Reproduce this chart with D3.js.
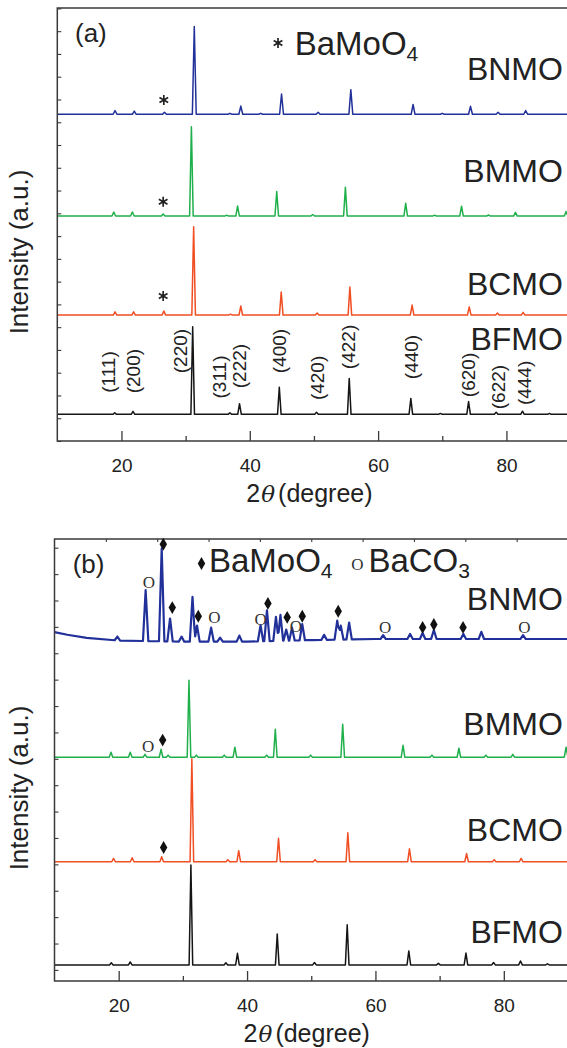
<!DOCTYPE html>
<html>
<head>
<meta charset="utf-8">
<script src="https://cdn.jsdelivr.net/npm/d3@7"></script>
<style>
  body { margin: 0; background: #fff; }
  svg { display: block; font-family: "Liberation Sans", Arial, sans-serif; }
</style>
</head>
<body>
<div id="container"></div>
<script>
/* DATA : peak lists are [2theta (degree), intensity above baseline (a.u.)] */
const samples = ["BNMO", "BMMO", "BCMO", "BFMO"];
const sampleColors = ["#22319a", "#1fb04b", "#f04e23", "#151515"];

// panel (a)
const peaksA_BNMO = [[19.0,16],[22.0,14],[26.7,9],[31.35,385],[36.9,4],[38.6,36],[41.7,4],[44.95,89],
  [50.65,9],[55.75,108],[65.45,43],[70.0,4],[74.4,35],[78.7,9],[83.0,16]];
const peaksA_BMMO = [[18.8,18],[21.7,18],[26.5,9],[30.9,392],[36.4,4],[38.1,44],[44.2,108],[49.8,7],
  [54.9,127],[64.3,56],[68.8,4],[73.0,43],[77.2,5],[81.4,16],[89.3,20]];
const peaksA_BCMO = [[19.0,14],[21.9,14],[26.6,18],[31.25,388],[37.0,4],[38.6,40],[44.9,101],[50.5,9],
  [55.6,123],[65.3,44],[74.2,36],[78.6,9],[82.6,12]];
const peaksA_BFMO = [[18.95,7],[21.8,13],[31.1,385],[36.9,7],[38.4,47],[44.6,119],[50.4,9],[55.5,158],
  [65.1,70],[69.7,4],[74.1,56],[78.4,9],[82.5,14],[86.7,4]];
const offsetsA = [1435, 988, 553, 117];

// panel (b)
const peaksB_BNMO = [[19.8,15],[24.2,193],[26.7,352],[28.0,87],[29.8,19],[31.5,170],[32.2,61],[34.4,53],
  [35.8,15],[38.8,23],[42.1,61],[43.1,117],[44.5,91],[45.2,98],[46.1,42],[47.0,49],[48.6,61],[52.0,19],
  [54.05,72],[54.6,53],[55.9,64],[61.2,15],[65.4,19],[67.35,23],[69.1,34],[73.7,19],[76.5,27],[83.0,15]];
const peaksB_BMMO = [[18.8,19],[21.8,19],[24.1,11],[26.6,30],[27.7,8],[30.95,292],[32.1,8],[36.45,8],
  [38.1,38],[43.05,8],[44.4,106],[49.9,8],[54.9,125],[64.3,45],[68.8,8],[73.0,34],[77.2,8],[81.4,11],[89.7,38]];
const peaksB_BCMO = [[19.2,13],[22.1,15],[26.7,19],[31.4,390],[37.0,8],[38.7,42],[44.9,89],[50.6,8],
  [55.7,110],[65.3,49],[74.2,31],[78.5,8],[82.7,13]];
const peaksB_BFMO = [[18.85,8],[21.8,11],[31.25,379],[36.7,8],[38.5,44],[44.7,117],[50.5,9],[55.6,152],
  [65.2,53],[69.8,6],[74.1,45],[78.4,9],[82.6,15],[86.8,4]];
const offsetsB = [0, 806, 410, 19];
// sloping baseline of BNMO in (b): [2theta, level]
const baselineB_BNMO = [[10,1280],[12,1270],[15,1258],[20,1248],[30,1244],[40,1244],[50,1250],
  [60,1254],[70,1254],[80,1254],[90,1254]];

// hkl indices of the double perovskite, drawn over BFMO in (a)
const hklLabels = ["(111)","(200)","(220)","(311)","(222)","(400)","(420)","(422)","(440)","(620)","(622)","(444)"];
const hklPos    = [18.0, 21.9, 29.1, 35.2, 38.4, 44.6, 50.5, 55.4, 65.1, 74.1, 78.7, 82.75];
const hklLevel  = [303, 307, 395, 281, 329, 395, 277, 413, 369, 290, 237, 255];

// impurity markers [2theta, level]
const starsA    = [[26.6,1498],[26.5,1051],[26.5,637]];
const diamondsB = [[26.95,1613],[28.35,1373],[32.4,1340],[43.25,1389],[46.25,1336],[48.6,1340],
  [54.2,1359],[67.35,1298],[69.1,1309],[73.65,1298],[26.85,871],[27.0,464]];
const circlesB  = [[24.7,1470],[34.9,1336],[42.1,1329],[47.6,1304],[61.5,1298],[83.2,1298],[24.6,848]];

const xTickLabels = [20, 40, 60, 80];
const xMinorTicks = [30, 50, 70];

/* LAYOUT */
const W = 567, H = 1048;
const svg = d3.select("#container").append("svg")
  .attr("width", W).attr("height", H);

const panels = [
  { id: "a", xr: [57.3, 570.6], yd: [0, 1900], yr: [441, 8.4], top: 8, bottom: 441,
    peaks: [peaksA_BNMO, peaksA_BMMO, peaksA_BCMO, peaksA_BFMO], offsets: offsetsA,
    widths: [0.3, 0.28, 0.28, 0.28], strokes: [1.5, 1.5, 1.5, 1.5],
    yTicks: d3.range(0, 1901, 100),
    labelX: 88.8, labelLevel: [1585, 1137, 641, 400],
    letter: [12.76, 1752], titleY: 252 },
  { id: "b", xr: [54.5, 568], yd: [-42, 1633], yr: [981, 539], top: 539, bottom: 981,
    peaks: [peaksB_BNMO, peaksB_BMMO, peaksB_BCMO, peaksB_BFMO], offsets: offsetsB,
    widths: [0.42, 0.28, 0.28, 0.28], strokes: [2.2, 1.5, 1.5, 1.5],
    yTicks: d3.range(0, 1601, 100),
    labelX: 89.2, labelLevel: [1363, 890, 489, 101],
    letter: [12.83, 1503], titleY: 788 }
];

// build the trace vertices: peaks drawn as narrow spikes on the baseline
function tracePoints(peaks, base, w) {
  let xs = [10, 90];
  peaks.forEach(p => xs.push(p[0] - w, p[0], p[0] + w));
  if (typeof base !== "number") base.domain().forEach(x => xs.push(x));
  xs = Array.from(new Set(xs.map(x => +x.toFixed(3)))).sort((a, b) => a - b);
  const b = typeof base === "number" ? () => base : base;
  return xs.map(x => {
    let y = b(x);
    peaks.forEach(p => { y += Math.max(0, 1 - Math.abs(x - p[0]) / w) * p[1]; });
    return [x, y];
  });
}

panels.forEach(P => {
  const g = svg.append("g");
  const x = d3.scaleLinear().domain([10, 90]).range(P.xr);
  const y = d3.scaleLinear().domain(P.yd).range(P.yr);
  const x0 = P.xr[0];

  const clipId = "clip-" + P.id;
  g.append("clipPath").attr("id", clipId).append("rect")
    .attr("x", x0).attr("y", P.top).attr("width", P.xr[1] - x0).attr("height", P.bottom - P.top);

  // traces
  const line = d3.line().x(d => x(d[0])).y(d => y(d[1]));
  P.peaks.forEach((pk, i) => {
    let base = P.offsets[i];
    if (P.id === "b" && i === 0) {
      base = d3.scaleLinear().domain(baselineB_BNMO.map(d => d[0])).range(baselineB_BNMO.map(d => d[1]));
    }
    g.append("path")
      .attr("clip-path", `url(#${clipId})`)
      .attr("d", line(tracePoints(pk, base, P.widths[i])))
      .attr("fill", "none")
      .attr("stroke", sampleColors[i])
      .attr("stroke-width", P.strokes[i])
      .attr("stroke-linejoin", "round");
  });

  // frame
  g.append("rect")
    .attr("x", x0).attr("y", P.top)
    .attr("width", P.xr[1] - x0 + 10).attr("height", P.bottom - P.top)
    .attr("fill", "none").attr("stroke", "#3a3a3a").attr("stroke-width", 1.5);

  // bottom axis
  const xAxis = g.append("g").attr("transform", `translate(0,${P.bottom})`)
    .call(d3.axisBottom(x).tickValues(xTickLabels).tickSize(-10).tickPadding(18).tickSizeOuter(0));
  xAxis.select(".domain").remove();
  xAxis.selectAll("line").attr("stroke", "#3a3a3a").attr("stroke-width", 1.3);
  xAxis.selectAll("text").attr("font-size", 19).attr("fill", "#222")
    .attr("font-family", '"Liberation Sans", Arial, sans-serif');
  const xMinor = g.append("g").attr("transform", `translate(0,${P.bottom})`)
    .call(d3.axisBottom(x).tickValues(xMinorTicks).tickSize(-5).tickFormat("").tickSizeOuter(0));
  xMinor.select(".domain").remove();
  xMinor.selectAll("line").attr("stroke", "#3a3a3a").attr("stroke-width", 1.3);

  // left axis ticks (no labels)
  const yAxis = g.append("g").attr("transform", `translate(${x0},0)`)
    .call(d3.axisLeft(y).tickValues(P.yTicks).tickSize(-4).tickFormat("").tickSizeOuter(0));
  yAxis.select(".domain").remove();
  yAxis.selectAll("line").attr("stroke", "#3a3a3a").attr("stroke-width", 1.1);

  if (P.id === "b") {
    const xTop = g.append("g").attr("transform", `translate(0,${P.top})`)
      .call(d3.axisTop(x).tickValues(d3.range(18, 90, 8)).tickSize(-3).tickFormat("").tickSizeOuter(0));
    xTop.select(".domain").remove();
    xTop.selectAll("line").attr("stroke", "#3a3a3a").attr("stroke-width", 1.1);
  }

  // x title
  const xt = g.append("text")
    .attr("x", x(49.3)).attr("y", P.bottom + 61)
    .attr("text-anchor", "middle").attr("font-size", 25).attr("fill", "#222");
  xt.append("tspan").text("2");
  xt.append("tspan").attr("font-style", "italic").attr("font-family", '"DejaVu Serif", serif')
    .attr("font-size", 23).attr("dx", 1).text("θ");
  xt.append("tspan").text("(degree)").attr("dx", 3);

  // y title
  g.append("text")
    .attr("transform", `translate(27.5,${P.titleY}) rotate(-90)`)
    .attr("text-anchor", "middle").attr("font-size", 26).attr("fill", "#222")
    .text("Intensity (a.u.)");

  // sample names
  samples.forEach((s, i) => {
    g.append("text")
      .attr("x", x(P.labelX)).attr("y", y(P.labelLevel[i]))
      .attr("text-anchor", "end").attr("font-size", 32).attr("fill", "#222")
      .text(s);
  });

  // panel letter
  g.append("text")
    .attr("x", x(P.letter[0])).attr("y", y(P.letter[1]))
    .attr("font-size", 26).attr("fill", "#222")
    .text(`(${P.id})`);

  P.x = x; P.y = y; P.g = g;
});

/* ANNOTATIONS */
const A = panels[0], B = panels[1];

// hkl labels
hklLabels.forEach((t, i) => {
  A.g.append("text")
    .attr("transform", `translate(${A.x(hklPos[i])},${A.y(hklLevel[i])}) rotate(-90)`)
    .attr("text-anchor", "middle").attr("dy", "0.36em")
    .attr("font-size", 19).attr("fill", "#222")
    .text(t);
});

// BaMoO4 stars (a)
const star = d3.symbol().type(d3.symbolAsterisk).size(70);
starsA.concat([[44.4, 1748]]).forEach(d => {
  A.g.append("path").attr("d", star)
    .attr("transform", `translate(${A.x(d[0])},${A.y(d[1])})`)
    .attr("fill", "none").attr("stroke", "#222").attr("stroke-width", 1.7);
});
const legA = A.g.append("text").attr("x", A.x(47.0)).attr("y", A.y(1695))
  .attr("font-size", 33).attr("fill", "#222");
legA.append("tspan").text("BaMoO");
legA.append("tspan").attr("font-size", 21).attr("dy", 6).text("4");

// BaMoO4 diamonds and BaCO3 circles (b)
const diamond = d3.symbol().type(d3.symbolDiamond).size(48);
diamondsB.concat([[32.9, 1540]]).forEach(d => {
  B.g.append("path").attr("d", diamond)
    .attr("transform", `translate(${B.x(d[0])},${B.y(d[1])})`)
    .attr("fill", "#111");
});
circlesB.concat([[57.2, 1536]]).forEach(d => {
  B.g.append("text")
    .attr("x", B.x(d[0])).attr("y", B.y(d[1])).attr("dy", "0.34em")
    .attr("text-anchor", "middle").attr("font-size", 17)
    .attr("font-family", '"Liberation Serif", "Times New Roman", serif')
    .attr("fill", "#333").text("O");
});
const legB1 = B.g.append("text").attr("x", B.x(34.07)).attr("y", B.y(1508))
  .attr("font-size", 33).attr("fill", "#222");
legB1.append("tspan").text("BaMoO");
legB1.append("tspan").attr("font-size", 21).attr("dy", 6).text("4");
const legB2 = B.g.append("text").attr("x", B.x(58.9)).attr("y", B.y(1508))
  .attr("font-size", 33).attr("fill", "#222");
legB2.append("tspan").text("BaCO");
legB2.append("tspan").attr("font-size", 21).attr("dy", 6).text("3");
</script>
</body>
</html>
